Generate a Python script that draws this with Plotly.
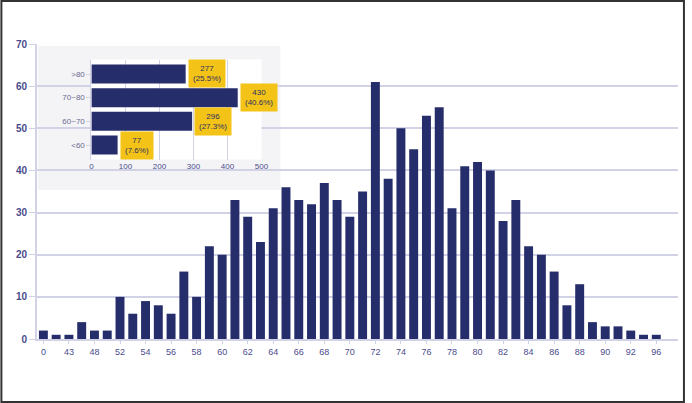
import plotly.graph_objects as go

# main histogram
categories = ["0", "42", "43", "47", "48", "50"] + [str(v) for v in range(52, 93)] + ["94", "96"]
counts = [2, 1, 1, 4, 2, 2, 10, 6, 9, 8, 6, 16, 10, 22, 20, 33, 29, 23, 31, 36,
          33, 32, 37, 33, 29, 35, 61, 38, 50, 45, 53, 55, 31, 41, 42, 40, 28, 33,
          22, 20, 16, 8, 13, 4, 3, 3, 2, 1, 1]
tick_labels = categories[::2]

# inset summary
groups = ["<60", "60~70", "70~80", ">80"]
group_counts = [77, 296, 430, 277]
group_pcts = ["7.6%", "27.3%", "40.6%", "25.5%"]

NAVY = "#262d6b"
GRID = "#d2d2e6"
TXT = "#4b4b8c"
GOLD = "#f3c417"

W, H = 692, 403
ml, mr, mt, mb = 37, 7, 44, 64
pw, ph = W - ml - mr, H - mt - mb


def px_x(x):
    return (x - ml) / pw


def px_y(y):
    return (H - mb - y) / ph


fig = go.Figure()
fig.add_trace(go.Bar(x=categories, y=counts, marker_color=NAVY, marker_line_width=0,
                     showlegend=False, hoverinfo="x+y"))
fig.add_trace(go.Bar(x=group_counts, y=groups, orientation="h", marker_color=NAVY,
                     marker_line_width=0, width=0.8, xaxis="x2", yaxis="y2",
                     showlegend=False))

shapes = [
    # inset background
    dict(type="rect", xref="paper", yref="paper", x0=px_x(38), x1=px_x(283),
         y0=px_y(190), y1=px_y(46), fillcolor="#f4f4f6", line_width=0, layer="below"),
    # outer frame
    dict(type="rect", xref="paper", yref="paper", x0=px_x(1), x1=px_x(W - 1),
         y0=px_y(H - 1), y1=px_y(1), line=dict(color="#333333", width=2)),
]

annotations = []
for g, c, p in zip(groups, group_counts, group_pcts):
    annotations.append(dict(x=c, y=g, xref="x2", yref="y2", xanchor="left", xshift=2,
                            text=f"{c}<br>({p})", showarrow=False, bgcolor=GOLD,
                            borderpad=4, font=dict(size=8, color="#2e2e60")))

fig.update_layout(
    width=W, height=H,
    margin=dict(l=ml, r=mr, t=mt, b=mb),
    paper_bgcolor="white", plot_bgcolor="white",
    bargap=0.3,
    font=dict(family="Liberation Sans, Arial, sans-serif", color=TXT),
    shapes=shapes,
    annotations=annotations,
    xaxis=dict(type="category", range=[-0.5, 49.7], tickvals=tick_labels,
               ticktext=tick_labels, tickfont=dict(size=9, color=TXT),
               showgrid=False, showline=True, linecolor=GRID, linewidth=2,
               ticks="outside", ticklen=3, tickcolor=GRID, tickangle=0),
    yaxis=dict(range=[0, 70], dtick=10, showgrid=True, gridcolor=GRID, gridwidth=2,
               showline=True, linecolor=GRID, linewidth=2, ticks="outside",
               ticklen=6, tickcolor=GRID, zeroline=False,
               tickfont=dict(size=10, color=TXT, weight="bold")),
    xaxis2=dict(domain=[px_x(92), px_x(264)], anchor="y2", range=[0, 500], dtick=100,
                showgrid=True, gridcolor=GRID, gridwidth=1, zeroline=False,
                tickfont=dict(size=8, color=TXT), ticks="", showline=False),
    yaxis2=dict(domain=[px_y(159.5), px_y(59.5)], anchor="x2", type="category",
                categoryorder="array", categoryarray=groups,
                tickfont=dict(size=8, color="#6a6a90"), showgrid=False,
                showline=True, linecolor=GRID, ticks="outside", ticklen=4,
                tickcolor=GRID),
)

# page body has a default margin and may scroll; drop both so the figure fills the window
fig.write_html("out.html", config={"displayModeBar": False},
               post_script="document.body.style.margin='0';document.body.style.overflow='hidden';")
